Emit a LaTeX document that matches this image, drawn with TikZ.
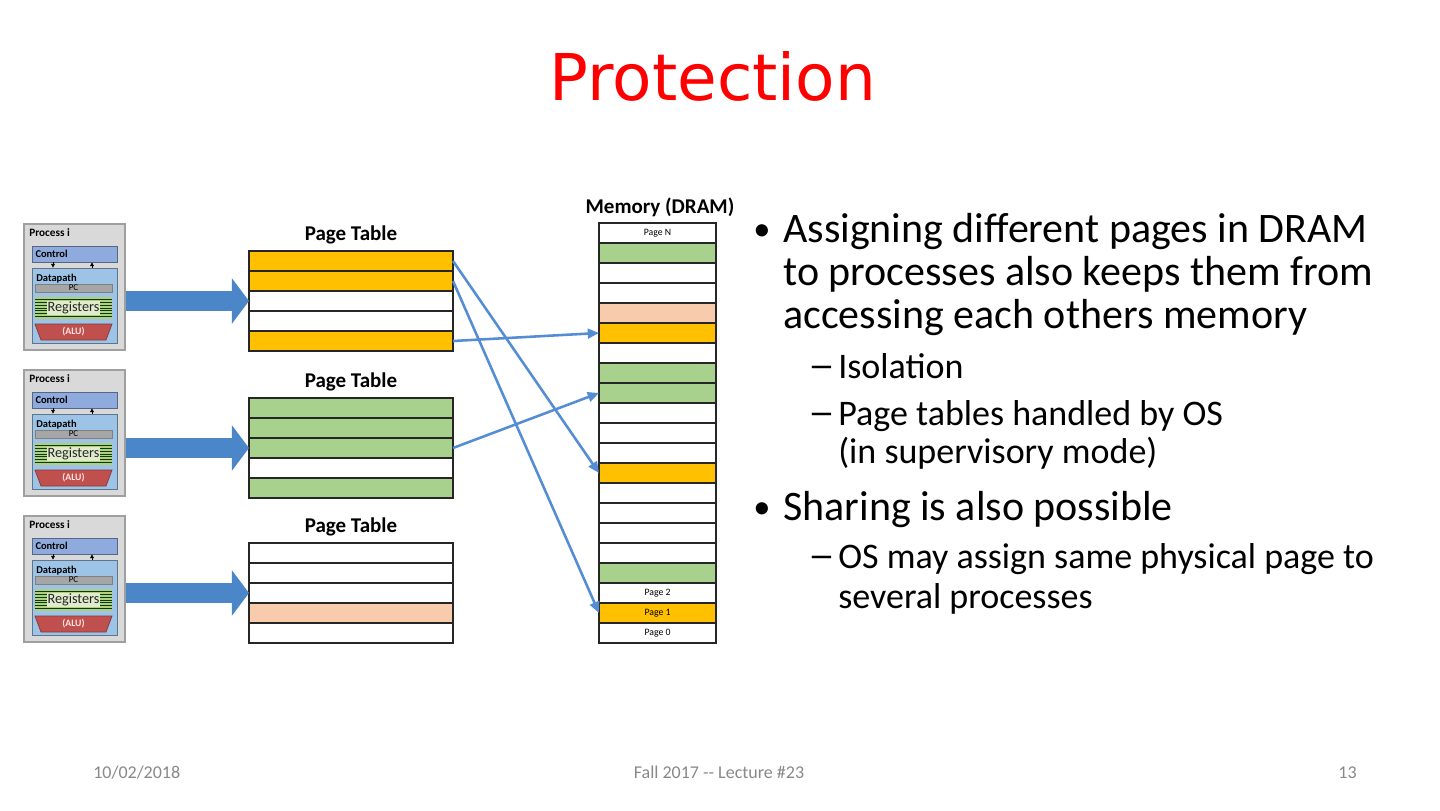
\documentclass[tikz,border=0pt]{standalone}
\usepackage{fontspec}
\setmainfont{Carlito}
\newfontfamily\titlefont{DejaVu Sans}
\usetikzlibrary{arrows.meta}
\definecolor{ptorange}{RGB}{255,192,0}
\definecolor{ptgreen}{RGB}{169,209,142}
\definecolor{ptpeach}{RGB}{248,203,173}
\definecolor{linkblue}{RGB}{84,141,212}
\definecolor{bigblue}{RGB}{74,134,200}
\definecolor{procgray}{RGB}{217,217,217}
\definecolor{ctlblue}{RGB}{143,170,220}
\definecolor{dpblue}{RGB}{157,195,230}
\definecolor{alured}{RGB}{192,80,77}
\definecolor{reggreen}{RGB}{180,205,130}
\definecolor{footgray}{RGB}{137,137,137}
\tikzset{
  cell/.style={draw=black!85, line width=0.9pt, inner sep=0pt, outer sep=0pt,
    minimum height=13.333pt, font=\fontsize{6.5}{7}\selectfont},
  ptcell/.style={cell, minimum width=136pt},
  memcell/.style={cell, minimum width=78pt},
  link/.style={linkblue, line width=1.7pt, -{Triangle[length=7.5pt,width=6.5pt]}},
  bigarrow/.style={bigblue, line width=13.333pt, -{Triangle[length=11.5pt,width=30pt]}},
  heading/.style={anchor=base, inner sep=0pt, font=\fontsize{14}{16}\selectfont\bfseries},
  bodytext/.style={anchor=base west, inner sep=0pt, font=\fontsize{28}{30}\selectfont},
  subtext/.style={anchor=base west, inner sep=0pt, font=\fontsize{24}{26}\selectfont},
  bulletmark/.style={anchor=base, inner sep=0pt, font=\fontsize{23}{26}\selectfont},
  dashmark/.style={anchor=base east, inner sep=0pt, font=\fontsize{24}{26}\selectfont},
  foot/.style={anchor=base, inner sep=0pt, text=footgray, font=\fontsize{12}{14}\selectfont},
  procbox/.style={draw=gray!75, fill=procgray, line width=0.8pt, inner sep=0pt,
    minimum width=67.33pt, minimum height=84pt},
  ctlbox/.style={draw=ctlblue!60!black, fill=ctlblue, line width=0.5pt, inner xsep=2.33pt,
    inner ysep=0pt, text width=52pt, minimum height=10.667pt, align=left,
    font=\fontsize{7}{8}\selectfont\bfseries},
  dpbox/.style={draw=dpblue!60!black, fill=dpblue, line width=0.5pt, inner sep=0pt,
    minimum width=56.67pt, minimum height=50pt},
  tiny/.style={line width=0.5pt, -{Triangle[length=2.5pt,width=2.5pt]}},
}
\begin{document}
\begin{tikzpicture}[x=0.6667pt,y=-0.6667pt]
    \fill[white] (0,0) rectangle (1440,810);
    \useasboundingbox (0,0) rectangle (1440,810);
    \node[anchor=base, inner sep=0pt, text=red, font=\titlefont\fontsize{43}{50}\selectfont]
        (title) at (713,100) {Protection};
    % processes
    \foreach \k/\oy in {a/0,b/146,c/292}{
        \node[procbox] (proc-\k) at (74.5,287+\oy) {};
        \node[anchor=base west, inner sep=0pt, font=\fontsize{7.5}{8}\selectfont\bfseries]
            (proc-\k-name) at (29,236+\oy) {Process i};
        \node[ctlbox] (ctl-\k) at (74.5,254+\oy) {Control};
        \node[dpbox] (dp-\k) at (74.5,305.5+\oy) {};
        \draw[tiny] ([xshift=-14.33pt]ctl-\k.south) -- ([xshift=-14.33pt]dp-\k.north);
        \draw[tiny] ([xshift=11.67pt]dp-\k.north) -- ([xshift=11.67pt]ctl-\k.south);
        \node[anchor=base west, inner sep=0pt, font=\fontsize{7}{8}\selectfont\bfseries]
            (dp-\k-name) at (36,281+\oy) {Datapath};
        \draw[fill=gray!70, draw=gray, line width=0.5pt] (35,284+\oy) rectangle (112,292+\oy);
        \node[inner sep=0pt, font=\fontsize{6}{7}\selectfont] (pc-\k) at (73.5,288+\oy) {PC};
        \fill[reggreen] (35,297+\oy) rectangle (112,319+\oy);
        \foreach \s in {1,...,7}
            \draw[green!25!black, line width=0.6pt] (35,297+\s*2.75+\oy) -- (112,297+\s*2.75+\oy);
        \node[inner sep=0.6pt, fill=reggreen!40, text=black!85, font=\fontsize{9.5}{10}\selectfont]
            (reg-\k) at (73.5,308+\oy) {Registers};
        \draw[fill=alured, draw=alured!70!black, line width=0.5pt]
            (35,324+\oy) -- (112,324+\oy) -- (106,340+\oy) -- (41,340+\oy) -- cycle;
        \node[inner sep=0pt, text=red!10, font=\fontsize{6.5}{7}\selectfont\bfseries]
            (alu-\k) at (73.5,332+\oy) {(ALU)};
    }
    % page tables
    \foreach \k/\oy/\cols in {a/0/{ptorange,ptorange,white,white,ptorange},
                              b/147/{ptgreen,ptgreen,ptgreen,white,ptgreen},
                              c/292/{white,white,white,ptpeach,white}}{
        \node[heading] (pt\k-title) at (351,240+\oy) {Page Table};
        \foreach \c [count=\i] in \cols
            \node[ptcell, fill=\c] (pt\k-\i) at (351,241+20*\i+\oy) {};
        \draw[bigarrow] (proc-\k.east |- pt\k-3.west) -- (pt\k-3.west);
    }
    % memory
    \node[heading] (mem-title) at (660,213) {Memory (DRAM)};
    \foreach \c/\t [count=\i] in {white/Page N,ptgreen/,white/,white/,ptpeach/,ptorange/,
                                  white/,ptgreen/,ptgreen/,white/,white/,white/,ptorange/,
                                  white/,white/,white/,white/,ptgreen/,white/Page 2,
                                  ptorange/Page 1,white/Page 0}
        \node[memcell, fill=\c] (mem-\i) at (657.5,213+20*\i) {\t};
    \draw[link] (pta-1.east) -- (mem-13.west);
    \draw[link] (pta-2.east) -- (mem-20.west);
    \draw[link] (pta-5.east) -- (mem-6.west);
    \draw[link] (ptb-3.east) -- (mem-9.west);
    % bullets
    \node[bulletmark] (b1-dot) at (762,240) {•};
    \node[bodytext] (b1-l1) at (783,242) {Assigning different pages in DRAM};
    \node[bodytext] (b1-l2) at (783,285) {to processes also keeps them from};
    \node[bodytext] (b1-l3) at (783,328) {accessing each others memory};
    \node[dashmark] (s1-dash) at (836,378) {\scalebox{1.5}[1.1]{–}};
    \node[subtext] (s1) at (838,378) {Isolation};
    \node[dashmark] (s2-dash) at (836,425) {\scalebox{1.5}[1.1]{–}};
    \node[subtext] (s2-l1) at (838,425) {Page tables handled by OS};
    \node[subtext] (s2-l2) at (838,463) {(in supervisory mode)};
    \node[bulletmark] (b2-dot) at (762,518) {•};
    \node[bodytext] (b2) at (783,520) {Sharing is also possible};
    \node[dashmark] (s3-dash) at (836,568) {\scalebox{1.5}[1.1]{–}};
    \node[subtext] (s3-l1) at (838,568) {OS may assign same physical page to};
    \node[subtext] (s3-l2) at (838,608) {several processes};
    % footer
    \node[foot, anchor=base west] (date) at (93,778) {10/02/2018};
    \node[foot] (course) at (719,778) {Fall 2017 \mbox{-}\mbox{-} Lecture \#23};
    \node[foot, anchor=base east] (slide) at (1357,778) {13};
\end{tikzpicture}
\end{document}
